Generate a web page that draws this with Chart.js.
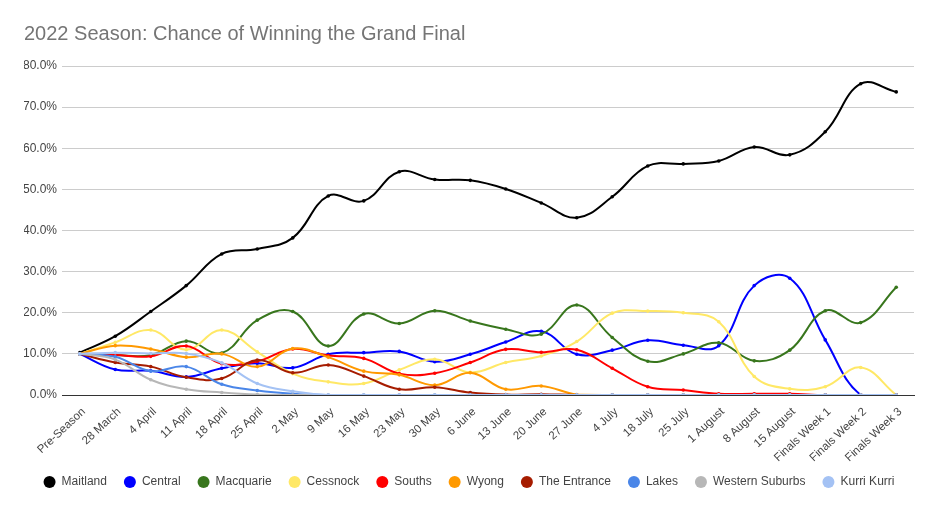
<!DOCTYPE html>
<html>
<head>
<meta charset="utf-8">
<script src="https://cdn.jsdelivr.net/npm/chart.js@4.4.1/dist/chart.umd.min.js"></script>
<style>
  html, body { margin: 0; padding: 0; background: #ffffff; }
  #wrap { width: 937px; height: 511px; position: relative; }
</style>
</head>
<body>
<div id="wrap"><canvas id="c"></canvas></div>
<script>
const categories = ["Pre-Season","28 March","4 April","11 April","18 April","25 April","2 May","9 May","16 May","23 May","30 May","6 June","13 June","20 June","27 June","4 July","18 July","25 July","1 August","8 August","15 August","Finals Week 1","Finals Week 2","Finals Week 3"];

const maitland  = [10.3, 14.3, 20.3, 26.6, 34.3, 35.5, 38.2, 48.4, 47.2, 54.3, 52.4, 52.2, 50.1, 46.7, 43.1, 48.2, 55.7, 56.2, 56.9, 60.3, 58.4, 64.0, 75.7, 73.7];
const central   = [10.0, 6.2, 5.9, 4.4, 6.5, 7.7, 6.6, 9.9, 10.3, 10.6, 8.1, 9.9, 12.9, 15.5, 9.9, 10.9, 13.3, 12.1, 12.0, 26.6, 28.4, 13.4, 0, 0];
const macquarie = [10.0, 9.7, 9.7, 13.1, 10.2, 18.2, 20.3, 11.9, 19.7, 17.4, 20.5, 18.0, 16.0, 14.8, 21.9, 14.0, 8.2, 10.0, 12.7, 8.3, 10.9, 20.5, 17.6, 26.2];
const cessnock  = [10.0, 12.8, 15.8, 11.0, 15.8, 10.5, 5.2, 3.2, 2.8, 6.1, 8.7, 5.5, 7.9, 9.5, 13.0, 19.9, 20.4, 20.0, 17.8, 4.5, 1.5, 2.0, 6.7, 0];
const souths    = [10.0, 9.7, 9.4, 11.9, 7.6, 8.2, 11.2, 9.6, 8.9, 5.2, 5.3, 7.9, 11.1, 10.4, 11.0, 6.5, 2.0, 1.2, 0.3, 0.3, 0.3, 0, 0, 0];
const wyong     = [10.0, 12.0, 11.2, 9.2, 10.0, 6.9, 11.3, 9.2, 5.8, 4.9, 2.4, 5.4, 1.4, 2.2, 0.1, 0, 0, 0, 0, 0, 0, 0, 0, 0];
const entrance  = [10.0, 7.9, 6.9, 4.3, 4.0, 8.5, 5.4, 7.3, 4.6, 1.4, 1.9, 0.6, 0.1, 0.2, 0, 0, 0, 0, 0, 0, 0, 0, 0, 0];
const lakes     = [10.0, 9.3, 5.8, 6.9, 2.6, 1.1, 0.3, 0, 0, 0, 0, 0, 0, 0, 0, 0, 0, 0, 0, 0, 0, 0, 0, 0];
const western   = [10.0, 8.6, 3.7, 1.4, 0.6, 0.1, 0, 0, 0, 0, 0, 0, 0, 0, 0, 0, 0, 0, 0, 0, 0, 0, 0, 0];
const kurri     = [10.0, 10.3, 10.1, 10.1, 7.8, 2.8, 0.9, 0, 0, 0, 0, 0, 0, 0, 0, 0, 0, 0, 0, 0, 0, 0, 0, 0];

const yTicks = [0, 10, 20, 30, 40, 50, 60, 70, 80];

const seriesNames = ["Maitland","Central","Macquarie","Cessnock","Souths","Wyong","The Entrance","Lakes","Western Suburbs","Kurri Kurri"];
const seriesData = [maitland, central, macquarie, cessnock, souths, wyong, entrance, lakes, western, kurri];
const seriesColors = ["#000000","#0000ff","#38761d","#ffe866","#ff0000","#ff9900","#a61c00","#4a86e8","#b7b7b7","#a4c2f4"];

const FONT = "'Liberation Sans', Arial, Helvetica, sans-serif";

const datasets = seriesNames.map((name, i) => ({
  label: name,
  data: seriesData[i],
  borderColor: seriesColors[i],
  backgroundColor: seriesColors[i],
  pointBackgroundColor: seriesColors[i],
  pointBorderColor: seriesColors[i],
  borderWidth: 2,
  pointRadius: 1.8,
  pointBorderWidth: 0,
  pointHoverRadius: 3,
  pointStyle: 'circle',
  tension: 0.4,
  fill: false,
  order: seriesNames.length - 1 - i
}));

new Chart(document.getElementById('c'), {
  type: 'line',
  data: { labels: categories, datasets: datasets },
  options: {
    responsive: true,
    maintainAspectRatio: false,
    animation: false,
    layout: { padding: { left: 24, right: 23, top: 0, bottom: 13 } },
    plugins: {
      title: {
        display: true,
        text: '2022 Season: Chance of Winning the Grand Final',
        align: 'start',
        color: '#757575',
        font: { family: FONT, size: 20, weight: 'normal' },
        padding: { top: 22, bottom: 20 }
      },
      legend: {
        display: true,
        position: 'bottom',
        labels: {
          usePointStyle: true,
          boxWidth: 12,
          boxHeight: 8.5,
          padding: 17,
          color: '#444444',
          font: { family: FONT, size: 12 },
          sort: (a, b) => a.datasetIndex - b.datasetIndex
        }
      },
      tooltip: { enabled: false }
    },
    scales: {
      x: {
        type: 'category',
        offset: true,
        grid: { display: false },
        border: { display: true, color: '#333333', width: 1 },
        ticks: {
          autoSkip: false,
          maxRotation: 43,
          minRotation: 43,
          padding: 2,
          labelOffset: 4,
          color: '#444444',
          font: { family: FONT, size: 11.5 }
        },
        afterFit: (s) => {
          s.height = 64;
          s._computeLabelArea = () => undefined;
        }
      },
      y: {
        min: 0,
        max: 80,
        afterBuildTicks: (s) => { s.ticks = yTicks.map(v => ({ value: v })); },
        grid: {
          color: (ctx) => (ctx.tick && ctx.tick.value === 0) ? '#333333' : '#cccccc',
          drawTicks: false,
          lineWidth: 1
        },
        border: { display: false },
        ticks: {
          padding: 5,
          color: '#444444',
          font: { family: FONT, size: 12 },
          callback: (v) => Number(v).toFixed(1) + '%'
        },
        afterFit: (s) => { s.width = 38; }
      }
    }
  }
});
</script>
</body>
</html>
